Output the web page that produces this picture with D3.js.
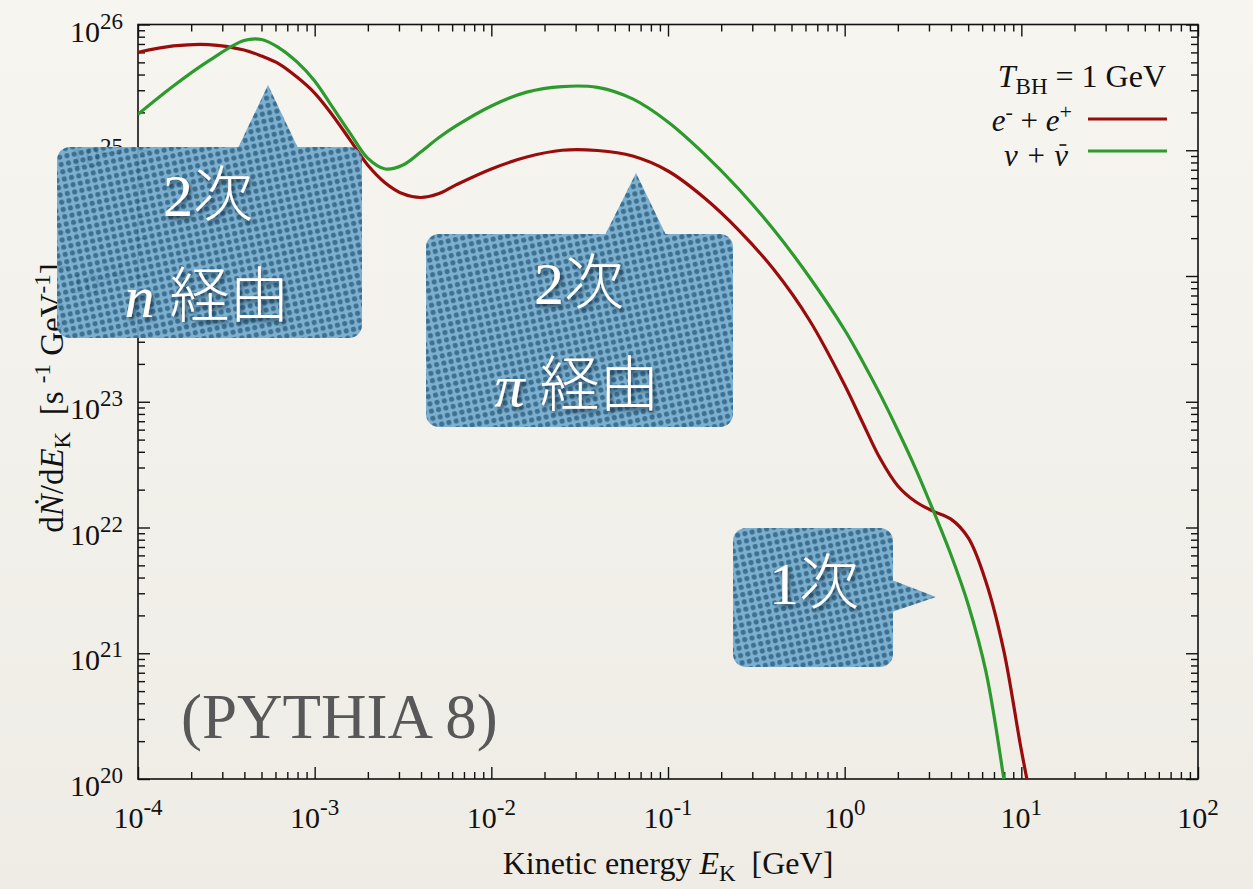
<!DOCTYPE html>
<html>
<head>
<meta charset="utf-8">
<script src="https://cdn.jsdelivr.net/npm/d3@7"></script>
<style>
  body { margin: 0; background: #f3f1eb; }
  svg { display: block; }
  text { font-family: "Liberation Serif", "Times New Roman", serif; }
</style>
</head>
<body>
<svg id="chart" width="1253" height="889"></svg>
<script>
// Kinetic energy grid [GeV]
const energyGeV = [
  1.0e-4, 1.585e-4, 2.512e-4, 3.981e-4, 5.012e-4, 6.31e-4, 7.943e-4,
  1.0e-3, 1.259e-3, 1.585e-3, 1.995e-3, 2.512e-3, 3.162e-3, 3.981e-3, 5.012e-3, 6.31e-3,
  1.0e-2, 1.585e-2, 2.512e-2, 3.981e-2, 6.31e-2,
  0.1, 0.1585, 0.2512, 0.3981, 0.631,
  1.0, 1.259, 1.585, 1.995, 2.512, 3.162, 3.981, 5.012, 6.31, 7.943,
  10.0, 12.59
];

// dN/dE_K for e- + e+  [s^-1 GeV^-1]
const electronPositron = [
  6.01e25, 6.75e25, 6.93e25, 6.27e25, 5.61e25, 4.85e25, 3.82e25,
  2.85e25, 1.91e25, 1.21e25, 7.64e24, 5.50e24, 4.50e24, 4.21e24, 4.50e24, 5.30e24,
  7.10e24, 8.83e24, 1.00e25, 9.95e24, 8.99e24,
  6.84e24, 4.25e24, 2.32e24, 1.12e24, 4.47e23,
  1.36e23, 6.90e22, 3.55e22, 2.15e22, 1.61e22, 1.35e22, 1.17e22, 8.26e21, 3.69e21, 1.06e21,
  1.70e20, 3.27e19
];

// dN/dE_K for nu + nubar  [s^-1 GeV^-1]
const neutrino = [
  1.93e25, 3.24e25, 5.13e25, 7.45e25, 7.60e25, 6.50e25, 5.04e25,
  3.56e25, 2.21e25, 1.37e25, 8.67e24, 7.10e24, 7.64e24, 9.68e24, 1.25e25, 1.56e25,
  2.25e25, 2.90e25, 3.21e25, 3.16e25, 2.56e25,
  1.68e25, 9.50e24, 4.92e24, 2.32e24, 9.82e23,
  3.72e23, 2.11e23, 1.15e23, 5.96e22, 2.97e22, 1.38e22, 6.15e21, 2.42e21, 7.10e20, 1.02e20,
  1.0e19, 1.0e18
];

const xTickExponents = [-4, -3, -2, -1, 0, 1, 2];
const yTickExponents = [20, 21, 22, 23, 24, 25, 26];

const seriesNames = ["e- + e+", "nu + nubar"];
const calloutLabels = [["2次", "n 経由"], ["2次", "π 経由"], ["1次"]];
const sourceLabel = "(PYTHIA 8)";

// ---------------------------------------------------------------
const svg = d3.select("#chart");
const W = 1253, H = 889;
const plot = { left: 138, right: 1198, top: 24.5, bottom: 779 };

const x = d3.scaleLog().domain([1e-4, 1e2]).range([plot.left, plot.right]);
const y = d3.scaleLog().domain([1e20, 1e26]).range([plot.bottom, plot.top]);

const defs = svg.append("defs");

// paper background
const bg = defs.append("linearGradient").attr("id", "paper")
  .attr("x1", 0).attr("y1", 0).attr("x2", 0).attr("y2", 1);
bg.append("stop").attr("offset", "0%").attr("stop-color", "#f7f5f0");
bg.append("stop").attr("offset", "100%").attr("stop-color", "#eeece5");
svg.append("rect").attr("width", W).attr("height", H).attr("fill", "url(#paper)");

// halftone fill for the speech bubbles
const P = 7.4;
const dots = defs.append("pattern").attr("id", "halftone")
  .attr("patternUnits", "userSpaceOnUse")
  .attr("width", P).attr("height", P)
  .attr("patternTransform", "rotate(-12)");
dots.append("rect").attr("width", P).attr("height", P).attr("fill", "#74abcd");
dots.append("rect").attr("x", 1.0).attr("y", 1.0).attr("width", 5.0).attr("height", 5.0)
  .attr("rx", 2.0).attr("fill", "#2f668a");

// soft shadow under bubble text
const sh = defs.append("filter").attr("id", "txtShadow")
  .attr("x", "-20%").attr("y", "-20%").attr("width", "140%").attr("height", "150%");
sh.append("feDropShadow").attr("dx", 2).attr("dy", 3).attr("stdDeviation", 2.2)
  .attr("flood-color", "#0d2433").attr("flood-opacity", 0.75);

defs.append("clipPath").attr("id", "plotClip")
  .append("rect")
  .attr("x", plot.left).attr("y", plot.top)
  .attr("width", plot.right - plot.left).attr("height", plot.bottom - plot.top);

// ---------------- axes ----------------
const majorX = xTickExponents.map(e => Math.pow(10, e));
const minorX = [];
xTickExponents.slice(0, -1).forEach(e => { for (let m = 2; m <= 9; m++) minorX.push(m * Math.pow(10, e)); });
const majorY = yTickExponents.map(e => Math.pow(10, e));
const minorY = [];
yTickExponents.slice(0, -1).forEach(e => { for (let m = 2; m <= 9; m++) minorY.push(m * Math.pow(10, e)); });

const axisG = svg.append("g").attr("class", "axes");
function drawAxis(gen, tx, ty) {
  const g = axisG.append("g").attr("transform", `translate(${tx},${ty})`).call(gen);
  g.select(".domain").remove();
  g.selectAll(".tick line").attr("stroke", "#111").attr("stroke-width", 1.4);
  g.selectAll(".tick text").remove();
}
const MAJ = 12, MIN = 7;
drawAxis(d3.axisBottom(x).tickValues(majorX).tickSize(-MAJ), 0, plot.bottom);
drawAxis(d3.axisBottom(x).tickValues(minorX).tickSize(-MIN), 0, plot.bottom);
drawAxis(d3.axisTop(x).tickValues(majorX).tickSize(-MAJ), 0, plot.top);
drawAxis(d3.axisTop(x).tickValues(minorX).tickSize(-MIN), 0, plot.top);
drawAxis(d3.axisLeft(y).tickValues(majorY).tickSize(-MAJ), plot.left, 0);
drawAxis(d3.axisLeft(y).tickValues(minorY).tickSize(-MIN), plot.left, 0);
drawAxis(d3.axisRight(y).tickValues(majorY).tickSize(-MAJ), plot.right, 0);
drawAxis(d3.axisRight(y).tickValues(minorY).tickSize(-MIN), plot.right, 0);

axisG.append("rect")
  .attr("x", plot.left).attr("y", plot.top)
  .attr("width", plot.right - plot.left).attr("height", plot.bottom - plot.top)
  .attr("fill", "none").attr("stroke", "#111").attr("stroke-width", 1.6);

// tick labels: 10^n
function powerLabel(sel, exp) {
  sel.append("tspan").attr("font-size", 30).text("10");
  sel.append("tspan").attr("font-size", 23).attr("dy", -13).text(String(exp));
}
svg.append("g").selectAll("text").data(xTickExponents).join("text")
  .attr("x", d => x(Math.pow(10, d)))
  .attr("y", plot.bottom + 49)
  .attr("text-anchor", "middle").attr("fill", "#111")
  .each(function (d) { powerLabel(d3.select(this), d); });

svg.append("g").selectAll("text").data(yTickExponents).join("text")
  .attr("x", plot.left - 15)
  .attr("y", d => y(Math.pow(10, d)) + 17)
  .attr("text-anchor", "end").attr("fill", "#111")
  .each(function (d) { powerLabel(d3.select(this), d); });

// axis titles
const xt = svg.append("text")
  .attr("x", (plot.left + plot.right) / 2).attr("y", 874)
  .attr("text-anchor", "middle").attr("font-size", 32).attr("fill", "#111")
  .style("white-space", "pre");
xt.append("tspan").text("Kinetic energy ");
xt.append("tspan").attr("font-style", "italic").text("E");
xt.append("tspan").attr("font-size", 23).attr("dy", 7).text("K");
xt.append("tspan").attr("dy", -7).text("  [GeV]");

const yt = svg.append("text")
  .attr("transform", "translate(63,398) rotate(-90)")
  .attr("text-anchor", "middle").attr("font-size", 33).attr("fill", "#111")
  .style("white-space", "pre");
yt.append("tspan").text("d");
yt.append("tspan").attr("font-style", "italic").text("Ṅ");
yt.append("tspan").text("/d");
yt.append("tspan").attr("font-style", "italic").text("E");
yt.append("tspan").attr("font-size", 23).attr("dy", 7).text("K");
yt.append("tspan").attr("dy", -7).text("  [s ");
yt.append("tspan").attr("font-size", 23).attr("dy", -13).text("-1");
yt.append("tspan").attr("dy", 13).text(" GeV");
yt.append("tspan").attr("font-size", 23).attr("dy", -13).text("-1");
yt.append("tspan").attr("dy", 13).text("]");

// ---------------- curves ----------------
const series = [
  { name: seriesNames[0], values: electronPositron, color: "#990c0c" },
  { name: seriesNames[1], values: neutrino, color: "#2c9a2c" }
];
const line = d3.line()
  .x(d => x(d[0])).y(d => y(d[1]))
  .curve(d3.curveCatmullRom.alpha(0.5));
svg.append("g").attr("clip-path", "url(#plotClip)")
  .selectAll("path").data(series).join("path")
  .attr("d", s => line(energyGeV.map((e, i) => [e, s.values[i]])))
  .attr("fill", "none").attr("stroke", s => s.color)
  .attr("stroke-width", 3.2).attr("stroke-linejoin", "round");

// ---------------- legend ----------------
const lg = svg.append("g").attr("fill", "#111").attr("font-size", 31).style("white-space", "pre");
const t0 = lg.append("text").attr("x", 1166).attr("y", 87).attr("text-anchor", "end")
  .attr("font-size", 32);
t0.append("tspan").attr("font-style", "italic").text("T");
t0.append("tspan").attr("font-size", 23).attr("dy", 7).text("BH");
t0.append("tspan").attr("dy", -7).text(" = 1 GeV");

const t1 = lg.append("text").attr("x", 1072).attr("y", 131).attr("text-anchor", "end");
t1.append("tspan").attr("font-style", "italic").text("e");
t1.append("tspan").attr("font-size", 22).attr("dy", -12).text("-");
t1.append("tspan").attr("dy", 12).text(" + ");
t1.append("tspan").attr("font-style", "italic").text("e");
t1.append("tspan").attr("font-size", 22).attr("dy", -12).text("+");

const t2 = lg.append("text").attr("x", 1068).attr("y", 166).attr("text-anchor", "end")
  .attr("font-style", "italic").text("ν + ν");
// bar over the last nu (antineutrino)
const nuBox = t2.node().getExtentOfChar(4);
lg.append("line")
  .attr("x1", nuBox.x + nuBox.width * 0.38).attr("x2", nuBox.x + nuBox.width * 0.88)
  .attr("y1", nuBox.y + nuBox.height * 0.2).attr("y2", nuBox.y + nuBox.height * 0.2)
  .attr("stroke", "#111").attr("stroke-width", 1.6);

lg.selectAll("line.key").data(series).join("line").attr("class", "key")
  .attr("x1", 1088).attr("x2", 1167)
  .attr("y1", (d, i) => 119 + i * 32).attr("y2", (d, i) => 119 + i * 32)
  .attr("stroke", d => d.color).attr("stroke-width", 3.2);

// source tag
svg.append("text").attr("x", 181).attr("y", 738)
  .attr("font-size", 63).attr("fill", "#585858").text(sourceLabel);

// ---------------- speech bubbles ----------------
const bubbles = [
  { box: [57, 147, 305, 191], tail: [[238, 148], [268, 85], [298, 148]],
    lines: [{ t: calloutLabels[0][0], x: 208, y: 216 }, { t: calloutLabels[0][1], x: 207, y: 317 }] },
  { box: [426, 234, 307, 193], tail: [[605, 235], [636, 173], [666, 235]],
    lines: [{ t: calloutLabels[1][0], x: 579, y: 304 }, { t: calloutLabels[1][1], x: 577, y: 406 }] },
  { box: [733, 528, 160, 139], tail: [[892, 580], [936, 597], [892, 612]],
    lines: [{ t: calloutLabels[2][0], x: 814, y: 604 }] }
];

bubbles.forEach(b => {
  const g = svg.append("g").attr("opacity", 0.93);
  g.append("rect")
    .attr("x", b.box[0]).attr("y", b.box[1])
    .attr("width", b.box[2]).attr("height", b.box[3])
    .attr("rx", 13).attr("fill", "url(#halftone)");
  g.append("path")
    .attr("d", d3.line()(b.tail) + "Z")
    .attr("fill", "url(#halftone)");
  b.lines.forEach(l => {
    const tx = svg.append("text")
      .attr("x", l.x).attr("y", l.y).attr("text-anchor", "middle")
      .attr("font-size", 60).attr("fill", "#ffffff")
      .attr("filter", "url(#txtShadow)")
      .style("white-space", "pre")
      .style("font-family", "'Liberation Serif', 'Noto Sans CJK JP', serif");
    const parts = l.t.split(" ");
    if (parts.length === 2) {
      tx.append("tspan").attr("font-style", "italic").text(parts[0] + " ");
      tx.append("tspan").style("font-family", "'Noto Sans CJK JP', sans-serif")
        .attr("font-weight", 300).text(parts[1]);
    } else {
      const digit = l.t.slice(0, 1), kanji = l.t.slice(1);
      tx.append("tspan").text(digit);
      tx.append("tspan").style("font-family", "'Noto Sans CJK JP', sans-serif")
        .attr("font-weight", 300).text(kanji);
    }
  });
});
</script>
</body>
</html>
